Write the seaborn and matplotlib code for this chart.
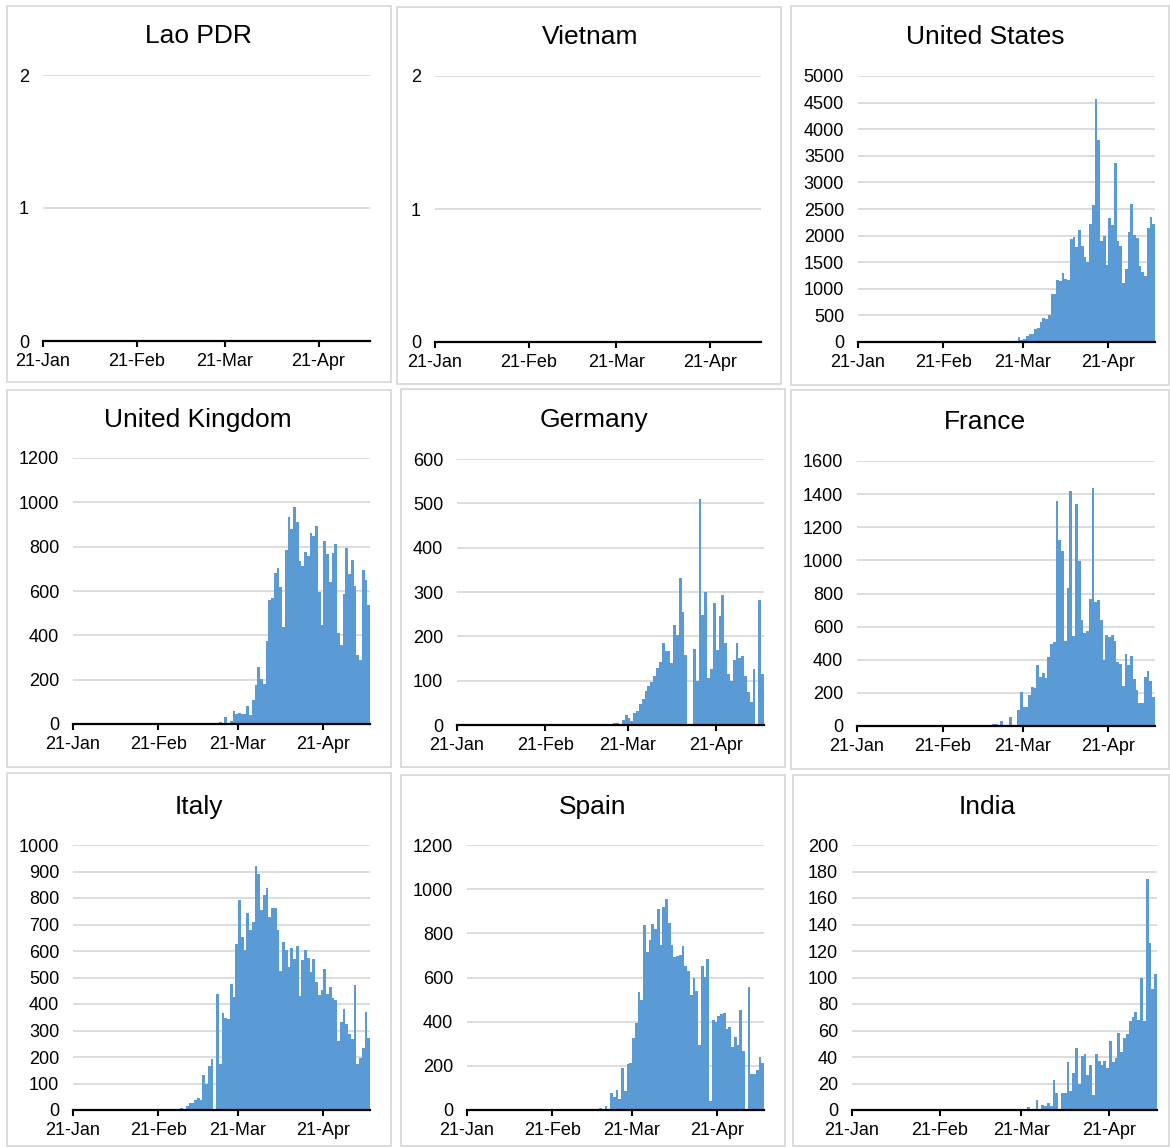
import numpy as np
import pandas as pd
import matplotlib.pyplot as plt
import seaborn as sns
from matplotlib.patches import Rectangle

sns.set_theme(style='white')
plt.rcParams['font.family'] = ['Liberation Sans', 'DejaVu Sans']

# Daily values from 21-Jan to 07-May (108 days)
n_days = 108
tick_days = [0, 31, 60, 91]
tick_labels = ['21-Jan', '21-Feb', '21-Mar', '21-Apr']

# each list starts at its start day index; earlier days are 0
lao_start = 0
lao_deaths = [0]
vietnam_start = 0
vietnam_deaths = [0]

us_start = 58
us_deaths = [87, 40, 50, 110, 145, 145, 237, 270, 375, 450, 437, 500, 900, 900,
             1160, 1150, 1300, 1180, 1160, 1940, 1975, 1790, 2100, 1810, 1600,
             1500, 2225, 2570, 4575, 3790, 1890, 1995, 1445, 2340, 2200, 3360,
             1900, 1800, 1110, 1380, 2075, 2600, 2010, 1950, 1420, 1310, 1245,
             2140, 2350, 2225]

uk_start = 53
uk_deaths = [9, 0, 30, 0, 14, 60, 45, 51, 47, 47, 81, 39, 107, 178, 255, 202,
             181, 374, 560, 567, 679, 705, 617, 439, 783, 934, 880, 979, 910,
             735, 715, 776, 760, 862, 848, 892, 595, 448, 825, 767, 641, 772,
             813, 409, 355, 588, 795, 676, 740, 623, 311, 288, 694, 649, 539]

germany_start = 52
germany_deaths = [2, 0, 0, 4, 4, 0, 12, 22, 16, 9, 27, 32, 48, 59, 76, 89, 98,
                  111, 129, 143, 186, 167, 167, 139, 226, 204, 332, 256, 158, 0,
                  0, 171, 99, 509, 248, 299, 106, 126, 275, 169, 245, 294, 184,
                  116, 99, 147, 186, 152, 155, 111, 75, 52, 126, 0, 282, 115]

france_start = 47
france_deaths = [6, 0, 12, 12, 0, 28, 8, 0, 52, 0, 0, 96, 205, 113, 113, 187,
                 237, 231, 366, 297, 318, 291, 418, 498, 508, 1359, 1121, 1055,
                 516, 834, 1417, 541, 1343, 995, 639, 563, 575, 766, 1439, 750,
                 758, 639, 398, 547, 539, 547, 515, 388, 372, 239, 436, 366,
                 424, 283, 217, 137, 137, 297, 330, 273, 175]

italy_start = 39
italy_deaths = [9, 5, 16, 25, 25, 39, 47, 38, 133, 98, 165, 194, 0, 439, 174,
                366, 348, 342, 475, 427, 627, 794, 652, 602, 743, 681, 710, 921,
                891, 756, 812, 836, 727, 762, 764, 681, 523, 634, 602, 540, 610,
                570, 620, 430, 567, 603, 572, 521, 571, 482, 434, 453, 533, 437,
                464, 421, 416, 262, 332, 380, 323, 287, 268, 473, 174, 195, 234,
                370, 273]

spain_start = 48
spain_deaths = [8, 0, 17, 0, 77, 60, 89, 51, 188, 84, 208, 212, 326, 396, 534,
                496, 839, 716, 772, 841, 820, 910, 747, 920, 957, 845, 747, 692,
                699, 702, 744, 650, 629, 522, 599, 541, 296, 650, 602, 684, 39,
                409, 400, 426, 433, 439, 368, 376, 286, 331, 296, 451, 266, 0,
                556, 165, 165, 180, 241, 214]

india_start = 62
india_deaths = [2.5, 0, 1, 7.5, 0, 3.5, 3, 5, 3, 23, 13, 0, 13, 13, 36, 14, 28,
                47, 20, 41, 42, 26.5, 34, 11, 42, 37, 34, 37, 32, 52, 36, 39, 58,
                44, 54.5, 57, 67.5, 70, 74, 68, 99.5, 67, 174, 126, 91, 103]

W, H = 1170, 1147
fig = plt.figure(figsize=(W / 100, H / 100), dpi=100)
bar_color = '#5b9bd5'

# title, values, start, ymax, ystep, plot box (px), panel box (px), title pos (px)
panels = [
    ('Lao PDR', lao_deaths, lao_start, 2, 1, (43, 75, 370, 341), (7, 6, 391, 382), (198, 36)),
    ('Vietnam', vietnam_deaths, vietnam_start, 2, 1, (435, 76, 761, 342), (397, 7, 781, 384), (590, 37)),
    ('United States', us_deaths, us_start, 5000, 500, (858, 76, 1155, 342), (791, 6, 1169, 385), (985, 37)),
    ('United Kingdom', uk_deaths, uk_start, 1200, 200, (73, 458, 370, 724), (7, 390, 391, 767), (198, 420)),
    ('Germany', germany_deaths, germany_start, 600, 100, (457, 459, 764, 725), (401, 389, 785, 767), (594, 420)),
    ('France', france_deaths, france_start, 1600, 200, (857, 461, 1155, 726), (791, 390, 1169, 769), (985, 422)),
    ('Italy', italy_deaths, italy_start, 1000, 100, (73, 845, 370, 1110), (7, 773, 391, 1146), (199, 807)),
    ('Spain', spain_deaths, spain_start, 1200, 200, (467, 845, 764, 1110), (401, 775, 785, 1146), (593, 807)),
    ('India', india_deaths, india_start, 200, 20, (852, 845, 1157, 1110), (793, 775, 1169, 1146), (987, 807)),
]

for title, vals, start, ymax, ystep, pbox, frame, tpos in panels:
    series = np.zeros(n_days)
    series[start:start + len(vals)] = vals
    df = pd.DataFrame({'day': np.arange(n_days) + 0.5, 'deaths': series})

    x0, y0, x1, y1 = pbox
    ax = fig.add_axes([x0 / W, 1 - y1 / H, (x1 - x0) / W, (y1 - y0) / H])
    sns.barplot(data=df, x='day', y='deaths', native_scale=True, width=1.0,
                color=bar_color, saturation=1, errorbar=None, linewidth=0, ax=ax)
    # no antialiasing so neighbouring days join up like the original columns
    for p in ax.patches:
        p.set_antialiased(False)

    ax.set_xlim(0, n_days)
    ax.set_ylim(0, ymax)
    ax.set_yticks(np.arange(0, ymax + ystep / 2, ystep))
    ax.set_xticks(tick_days)
    ax.set_xticklabels(tick_labels)
    ax.set_xlabel('')
    ax.set_ylabel('')
    ax.yaxis.grid(True, color='#d9d9d9', lw=1.3)
    ax.xaxis.grid(False)
    ax.set_axisbelow(True)
    for s in ['left', 'right', 'top']:
        ax.spines[s].set_visible(False)
    ax.spines['bottom'].set_color('black')
    ax.spines['bottom'].set_linewidth(1.6)
    ax.spines['bottom'].set_zorder(3)
    ax.tick_params(axis='x', direction='out', length=4, width=1.5, color='black',
                   pad=4.5, labelsize=13, labelcolor='black', bottom=True)
    ax.tick_params(axis='y', length=0, pad=10, labelsize=13, labelcolor='black')

    fx0, fy0, fx1, fy1 = frame
    fig.add_artist(Rectangle((fx0 / W, 1 - fy1 / H), (fx1 - fx0) / W, (fy1 - fy0) / H,
                             transform=fig.transFigure, fill=False,
                             ec='#d9d9d9', lw=1.3))
    fig.text(tpos[0] / W, 1 - tpos[1] / H, title, ha='center', va='center',
             fontsize=19, color='black')

fig.savefig('out.png', dpi=100)
